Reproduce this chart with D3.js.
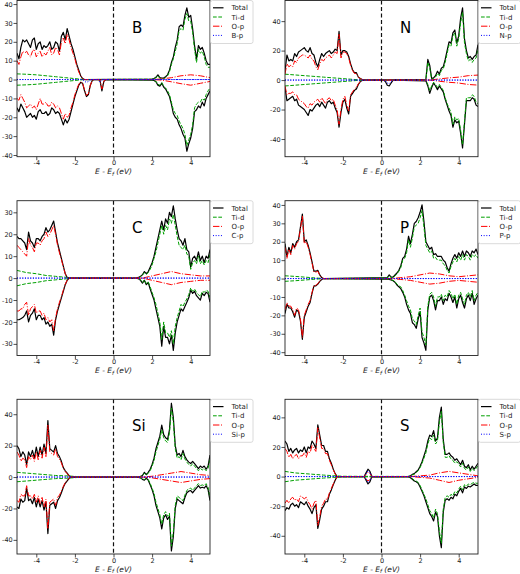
<!DOCTYPE html>
<html><head><meta charset="utf-8">
<script src="https://cdn.jsdelivr.net/npm/d3@7"></script>
<style>body{margin:0;background:#fff}svg{display:block}</style>
</head><body>
<svg id="chart" width="520" height="574"></svg>
<script>
// ---------------- DATA ----------------
const panelNames = ["B", "N", "C", "P", "Si", "S"];
const seriesLabels = ["Total", "Ti-d", "O-p"];
const dopantLabels = ["B-p", "N-p", "C-p", "P-p", "Si-p", "S-p"];
const xTickValues = [-4, -2, 0, 2, 4];
const B_yTicks = [-40, -30, -20, -10, 0, 10, 20, 30, 40];
const N_yTicks = [-40, -20, 0, 20, 40];
const C_yTicks = [-30, -20, -10, 0, 10, 20, 30];
const P_yTicks = [-40, -30, -20, -10, 0, 10, 20, 30, 40];
const Si_yTicks = [-40, -20, 0, 20, 40];
const S_yTicks = [-40, -20, 0, 20, 40];
const yDomains = [[-40.9, 41.9], [-52, 54], [-35.3, 35.3], [-41.8, 42.3], [-49, 49.5], [-52.3, 52.2]];

// valence arrays start at -5.0 eV; fine step 0.1 eV, coarse step 0.5 eV
const FINE = 0.1, COARSE = 0.5, VAL_START = -5.0;

// ---- B ----
const B_totUpV = [14,11,17,21,20,21,19,17,21,22,16,19,20,16,18,17,18,20,16,17,20,19,15,23,25,21,27,23,19,16,12,8,5,2,0.5,0];
const B_opUpV = [10,8,12,15,14,15,13,12,15,16,12,14,15,12,14,13,15,17,13,14,17,16,13,20,22,19,24,21,17,14,11,7,4,2,0.5,0];
const B_totDnV = [-15,-17,-13,-15,-17,-20,-19,-18,-20,-19,-21,-17,-16,-18,-18,-17,-19,-18,-15,-16,-18,-17,-18,-21,-24,-21,-23,-21,-17,-13,-9,-6,-3,-1.5,-2,-6,-9,-8,-3,-0.5,0,0,0,-0.5,-6,-1,0];
const B_opDnV = [-10,-11,-8,-10,-12,-15,-14,-13,-15,-14,-16,-13,-10,-13,-13,-12,-14,-14,-12,-13,-15,-14,-15,-18,-21,-18,-20,-19,-15,-12,-8,-5,-2.5,-1.2,-2,-5.5,-8.5,-7.5,-3,-0.5,0,0,0,-0.3,-5,-0.8,0];
const B_tdUpV = [3,2.8,2.5,2,1.5,1,0.5,0];
const B_tdDnV = [-3,-2.8,-2.5,-2,-1.5,-1,-0.5,0];
const B_conStart = 2.0;
const B_totUpC = [0.3,0.5,1.2,2.5,1,0.8,0.8,1.5,2.5,5,9,12,17,21,28,29,28,34,38,33,34,27,18,11,18,16,17,14,10,8,8];
const B_tdUpC = [0.2,0.4,1,2,0.7,0.5,0.5,1,2,4,8,11,15,19,26,27,26,32,35,31,31,25,16,9,16,14,15,12,8,6.5,6.5];
const B_totDnC = [-0.3,-0.5,-1.2,-3,-3.5,-2,-4,-5,-7,-9,-13,-18,-20,-21,-24,-26,-29,-31,-38,-34,-31,-26,-17,-16,-14,-15,-12,-14,-10,-8,-6];
const B_tdDnC = [-0.2,-0.4,-1,-2.5,-3,-1.5,-3.5,-4.5,-6,-8,-12,-16,-18,-19,-22,-24,-26,-29,-35,-32,-29,-24,-15,-13,-12,-12,-10,-11,-8,-6,-4.5];
const B_opStartC = 2.0;
const B_opUpC = [0,0.3,1,2,2.5,2,1];
const B_opDnC = [0,-0.3,-1.2,-2.2,-3,-2,-1];
const B_gapStart = -1.6;
const B_xpUpG = [0,0,0,0,0,0,0,0,0,0,0,0];
const B_xpDnG = [0,-1,-1.5,-1,-0.3,0,0,0,0,-1.5,-0.3,0];

// ---- N ----
const N_totUpV = [6,17,13,14,13,18,16,19,20,21,22,20,19,22,18,17,12,9,14,18,16,18,19,20,18,19,21,20,33,17,20,20,19,16,11,7,5,5,2,1,0.3,0];
const N_opUpV = [4,11,9,10,9,13,12,15,16,17,17,16,15,17,14,13,9,7,11,14,13,15,16,17,15,17,19,18,31,15,19,19,18,15,10,6.5,4.5,4.5,2,1,0.3,0];
const N_totDnV = [-5,-14,-13,-12,-11,-14,-13,-17,-18,-19,-20,-22,-24,-20,-21,-19,-17,-16,-18,-15,-17,-19,-15,-14,-16,-15,-19,-22,-32,-22,-15,-13,-19,-23,-11,-9,-7,-6,-3,-1,-0.3,0];
const N_opDnV = [-4,-10,-9,-9,-8,-10,-10,-13,-14,-15,-16,-18,-19,-16,-17,-15,-14,-13,-15,-12,-14,-16,-13,-12,-14,-13,-17,-20,-30,-20,-13,-11,-17,-21,-10,-8,-6,-5,-2.5,-1,-0.3,0];
const N_tdUpV = [4,3.5,3,2.5,2,1.5,1,0.5,0];
const N_tdDnV = [-4,-3.5,-3,-2.5,-2,-1.5,-1,-0.5,0];
const N_conStart = 2.3;
const N_totUpC = [0.5,14,10,1,1.5,3,6,4,8,9,14,20,26,25,32,34,25,30,42,49,28,20,15,16,14,16,17,24];
const N_tdUpC = [0.3,12,8,0.5,1,2,4.5,3,6.5,7.5,12,18,24,23,30,32,23,28,39,46,25,18,13,14,12,14,15,21];
const N_totDnC = [-0.5,-4,-9,-5,-2,-4,-6.5,-4,-6,-8,-13,-17,-21,-24,-32,-27,-29,-28,-36,-46,-30,-14,-14,-14,-12,-13,-17,-18];
const N_tdDnC = [-0.3,-3,-7,-4,-1.5,-3,-5,-3,-5,-7,-12,-16,-19,-22,-30,-25,-27,-26,-34,-44,-28,-12,-12,-12,-10,-11,-15,-16];
const N_opStartC = 2.5;
const N_opUpC = [0,0.8,1.5,2,3,3.4];
const N_opDnC = [0,-0.8,-1.5,-2,-3,-3.4];
const N_gapStart = 0.1;
const N_totDnG = [0,-1,-3.5,-4,-2,0];
const N_xpUpG = [0,0,0,0,0,0];
const N_xpDnG = [0,-0.5,-2,-2.5,-1,0];

// ---- C ----
const C_totUpV = [19,18,18,17,16,13,21,17,16,14,18,18,17,19,20,23,21,22,24,26,21,16,12.5,9,5.5,2,0.3,0];
const C_opUpV = [15,14,13,12,11,10,18,15,14,12,16,16,15,17,18,21,19,20,22,24,20,15,11.5,8.5,5,2,0.3,0];
const C_totDnV = [-19,-19,-18.5,-18,-17,-15,-20,-17,-16,-14,-19,-17,-17,-19,-18,-21,-20,-22,-21,-26,-19,-15,-12,-9,-6,-3,-1,0];
const C_opDnV = [-15,-15,-14,-14,-12,-11,-17,-14,-13,-12,-16,-15,-15,-17,-16,-19,-18,-20,-19,-24,-18,-14,-11,-8.5,-5.5,-2.8,-1,0];
const C_tdUpV = [3.5,2.5,2,1.2,0.8,0.4,0];
const C_tdDnV = [-3.5,-2.5,-2,-1.2,-0.8,-0.4,0];
const C_conStart = 1.2;
const C_totUpC = [0.1,0.3,0.8,1.5,3,2,3,5,7,10,14,18,22,26,22,27,25,30,28,33,27,22,18,17,15,18,13,12,5,9,10,8,12,8,10,7,10,9,13];
const C_tdUpC = [0.1,0.3,0.7,1.3,2.5,1.7,2.5,4,6,9,12,16,20,24,20,24,22,27,25,29,24,19,15,14,13,15,11,10,4,7,8,6.5,10,6.5,8,6,8,7,11];
const C_totDnC = [-0.1,-0.3,-1,-2.3,-1,-3,-2,-5,-7.5,-10,-14,-18,-22,-31,-22,-27,-27,-30,-26,-33,-25,-20,-17,-14,-15,-13,-11,-9,-5.5,-7,-6,-8,-9,-10,-7,-8,-6.5,-7,-11];
const C_tdDnC = [-0.1,-0.3,-0.8,-2,-0.8,-2.5,-1.7,-4,-6.5,-9,-12,-16,-20,-28,-20,-25,-25,-27,-24,-30,-22,-18,-15,-12,-13,-11,-9.5,-7.5,-4.5,-6,-5,-6.5,-7.5,-8.5,-6,-6.5,-5.5,-6,-9];
const C_opStartC = 1.5;
const C_opUpC = [0,1,2,3,2,1.5,1,1];
const C_opDnC = [0,-1,-2,-3,-2,-1.5,-1,-1];

// ---- P ----
const P_totUpV = [19,12,17,14,19,17,20,21,28,35,20,21,18,14,9,4,4,4.5,2,0.5,0];
const P_opUpV = [17,11,16,13,18,16,19,20,27,34,19,20,17,13,8.5,3.5,3.5,4,1.8,0.5,0];
const P_totDnV = [-19,-14,-16,-16,-18,-21,-17,-18,-23,-33,-21,-18,-15,-13,-8,-4,-4,-3,-1.5,-0.5,0];
const P_opDnV = [-17,-13,-15,-15,-17,-20,-16,-17,-22,-32,-20,-17,-14,-12,-7.5,-3.7,-3.7,-2.8,-1.4,-0.5,0];
const P_tdUpV = [1.5,1.2,0.8,0.4,0];
const P_tdDnV = [-1.5,-1.2,-0.8,-0.4,0];
const P_conStart = 0.3;
const P_totUpC = [0.5,2,0.8,0.8,2,3,4.5,7,11,12,16,23,19,24,30,31,33,36,40,31,20,18,16,17,13,13.5,12,12,12,10,9,6,4,8,11,13,11,14,12,15,12,15,14,12,15,14,16,13];
const P_tdUpC = [0.3,1.5,0.5,0.5,1.5,2.5,4,6,10,11,14,21,17,22,28,29,30,33,37,28,18,16,14,15,11,11.5,10,10,10,8,7,4.5,3,6.5,9,11,9,12,10,13,10,13,12,10,13,12,13,11];
const P_totDnC = [-0.3,-0.5,-0.8,-1.2,-2,-3.5,-4.5,-5.5,-7.5,-10,-14,-17,-19,-24,-25,-27,-22,-18,-32,-35,-39,-17,-10,-9,-12,-17,-12,-12,-10,-14,-11,-12,-8,-10,-13,-10,-16,-11,-9,-13,-16,-11,-9,-12,-8,-14,-11,-9];
const P_tdDnC = [-0.2,-0.4,-0.6,-1,-1.7,-3,-4,-4.5,-6.5,-9,-12,-15,-17,-22,-23,-25,-20,-16,-29,-32,-36,-15,-8.5,-7.5,-10,-15,-10,-10,-8.5,-12,-9,-10,-6.5,-8,-11,-8.5,-14,-9,-7.5,-11,-14,-9,-7.5,-10,-6.5,-12,-9,-7.5];
const P_opStartC = 0.5;
const P_opUpC = [0,0.5,1,2,3,2.5,1.5,1,1.5,2];
const P_opDnC = [0,-0.5,-1,-2,-3,-2.5,-1.5,-1,-1.5,-2];

// ---- Si ----
const Si_totUpV = [20,18,13,16,14,8,16,13,17,12,19,13,19,14,21,15,36,18,17,16,20,15,13,10,6,4,2.5,0.8,0];
const Si_opUpV = [16,14,10,12,11,6,13,11,14,10,16,11,17,12,19,13,33,16,15,14,18,13,11.5,9,5.5,3.5,2.2,0.7,0];
const Si_totDnV = [-19,-20,-14,-16,-15,-7,-15,-14,-17,-13,-19,-14,-19,-15,-21,-16,-36,-18,-17,-16,-20,-15,-13,-10,-6.5,-4,-2.5,-0.8,0];
const Si_opDnV = [-15,-16,-11,-12,-12,-5.5,-12,-12,-14,-11,-16,-12,-17,-13,-19,-14,-33,-16,-15,-14,-18,-13,-11.5,-9,-6,-3.5,-2.2,-0.7,0];
const Si_tdUpV = [3,2.5,2,1.5,1,0.8,0.4,0];
const Si_tdDnV = [-3,-2.5,-2,-1.5,-1,-0.8,-0.4,0];
const Si_conStart = 1.3;
const Si_totUpC = [0.2,0.5,1,3,1.5,3,5,8,12,18,22,26,33,27,25,24,30,47,38,20,14,15,13,17,13,11,9.5,8.6,10,8.5,7,5.3,7,6,7,5,7,14];
const Si_tdUpC = [0.1,0.3,0.8,2.5,1.2,2.5,4,7,10.5,16,20,24,30,25,23,22,28,44,35,18,12,13,11,15,11.5,9.5,8,7,8.5,7,5.5,4,5.5,4.5,5.5,4,5.5,12];
const Si_totDnC = [-0.2,-0.5,-1.5,-2,-0.8,-2,-5,-8,-12,-18,-22,-26,-33,-26,-24,-27,-25,-47,-38,-20,-14,-15,-16,-17,-13,-10,-9,-8.6,-10,-8.5,-7,-5.5,-7,-6.5,-7,-5.5,-8,-15];
const Si_tdDnC = [-0.1,-0.3,-1.2,-1.6,-0.6,-1.6,-4,-7,-10.5,-16,-20,-24,-30,-24,-22,-25,-23,-44,-35,-18,-12,-13,-14,-15,-11.5,-8.5,-7.5,-7,-8.5,-7,-5.5,-4.2,-5.5,-5,-5.5,-4.2,-6.5,-13];
const Si_opStartC = 1.5;
const Si_opUpC = [0,0.5,1.5,2.5,3.5,2.5,1.5,1];
const Si_opDnC = [0,-0.5,-1.5,-2.5,-3.5,-2.5,-1.5,-1];

// ---- S ----
const S_totUpV = [24,22,17,19,16,18,19,16,18,17,20,16,20,19,24,22,19,35,28,21,21,17,17,12,9,5,2,0];
const S_opUpV = [19,17,13,15,12,14,15,12,14,14,16,13,17,16,21,19,17,33,26,19,19,15.5,15.5,11,8,4.5,1.8,0];
const S_totDnV = [-23,-21,-22,-19,-18,-20,-19,-21,-17,-18,-19,-17,-20,-22,-25,-21,-19,-35,-29,-22,-20,-17,-17,-12,-9,-5.5,-2.5,0];
const S_opDnV = [-18,-16,-18,-15,-14,-16,-15,-17,-13,-14,-15,-14,-17,-19,-22,-18,-16,-33,-27,-20,-18,-15,-15.5,-11,-8,-5,-2.2,0];
const S_tdUpV = [3.5,2.5,2,1.5,1,0.6,0.2];
const S_tdDnV = [-3.5,-2.5,-2,-1.5,-1,-0.6,-0.2];
const S_conStart = 1.4;
const S_totUpC = [0.1,0.5,1.5,2,3.3,4.5,7,10,14,18,24,28,27,31,24,26,40,47,25,15,15,16,14,13,11,12,10,8,11,7,6,8,4.5,7,5,7,9];
const S_tdUpC = [0.1,0.3,1.2,1.6,2.8,4,6,9,12.5,16,22,26,25,28,22,24,37,44,23,13,13,14,12,11,9,10,8.5,6.5,9,5.5,4.5,6.5,3.5,5.5,4,5.5,7.5];
const S_totDnC = [-0.2,-0.8,-1.8,-3,-3.5,-4.5,-7,-10,-13,-17,-21,-25,-27,-30,-24,-27,-40,-48,-24,-16,-15,-16,-14,-15,-12,-13,-10,-8,-11,-7,-8,-6.5,-7,-6,-5,-6,-6];
const S_tdDnC = [-0.1,-0.6,-1.5,-2.5,-3,-4,-6,-9,-12,-15,-19,-23,-25,-28,-22,-25,-37,-45,-22,-14,-13,-14,-12,-13,-10,-11,-8.5,-6.5,-9,-5.5,-6.5,-5,-5.5,-4.5,-4,-4.5,-4.5];
const S_opStartC = 1.5;
const S_opUpC = [0,0.5,1,2.5,3.5,2.5,1.5,0.5];
const S_opDnC = [0,-0.5,-1,-2.5,-4,-2.5,-1.5,-0.5];
const S_gapStart = -0.9;
const S_totUpG = [0,2.5,5,3.5,0];
const S_totDnG = [0,-2.5,-5,-3.5,0];
const S_opUpG = [0,1.5,3,2,0];
const S_opDnG = [0,-1.5,-3,-2,0];
const S_xpUpG = [0,1.8,4,2.8,0];
const S_xpDnG = [0,-1.8,-4,-2.8,0];

// ---------------- TABLE BUILT FROM THE ARRAYS ----------------
const seg = (start, step, vals) => (vals || []).map((v, i) => [+(start + i * step).toFixed(3), v]);
const join = (...segs) => [].concat(...segs).sort((a, b) => a[0] - b[0]);

const raw = {
  B: {yt: B_yTicks, totUpV: B_totUpV, opUpV: B_opUpV, totDnV: B_totDnV, opDnV: B_opDnV, tdUpV: B_tdUpV, tdDnV: B_tdDnV,
      cs: B_conStart, totUpC: B_totUpC, tdUpC: B_tdUpC, totDnC: B_totDnC, tdDnC: B_tdDnC, os: B_opStartC, opUpC: B_opUpC, opDnC: B_opDnC,
      gs: B_gapStart, xpUpG: B_xpUpG, xpDnG: B_xpDnG},
  N: {yt: N_yTicks, totUpV: N_totUpV, opUpV: N_opUpV, totDnV: N_totDnV, opDnV: N_opDnV, tdUpV: N_tdUpV, tdDnV: N_tdDnV,
      cs: N_conStart, totUpC: N_totUpC, tdUpC: N_tdUpC, totDnC: N_totDnC, tdDnC: N_tdDnC, os: N_opStartC, opUpC: N_opUpC, opDnC: N_opDnC,
      gs: N_gapStart, totDnG: N_totDnG, xpUpG: N_xpUpG, xpDnG: N_xpDnG},
  C: {yt: C_yTicks, totUpV: C_totUpV, opUpV: C_opUpV, totDnV: C_totDnV, opDnV: C_opDnV, tdUpV: C_tdUpV, tdDnV: C_tdDnV,
      cs: C_conStart, totUpC: C_totUpC, tdUpC: C_tdUpC, totDnC: C_totDnC, tdDnC: C_tdDnC, os: C_opStartC, opUpC: C_opUpC, opDnC: C_opDnC},
  P: {yt: P_yTicks, totUpV: P_totUpV, opUpV: P_opUpV, totDnV: P_totDnV, opDnV: P_opDnV, tdUpV: P_tdUpV, tdDnV: P_tdDnV,
      cs: P_conStart, totUpC: P_totUpC, tdUpC: P_tdUpC, totDnC: P_totDnC, tdDnC: P_tdDnC, os: P_opStartC, opUpC: P_opUpC, opDnC: P_opDnC},
  Si: {yt: Si_yTicks, totUpV: Si_totUpV, opUpV: Si_opUpV, totDnV: Si_totDnV, opDnV: Si_opDnV, tdUpV: Si_tdUpV, tdDnV: Si_tdDnV,
      cs: Si_conStart, totUpC: Si_totUpC, tdUpC: Si_tdUpC, totDnC: Si_totDnC, tdDnC: Si_tdDnC, os: Si_opStartC, opUpC: Si_opUpC, opDnC: Si_opDnC},
  S: {yt: S_yTicks, totUpV: S_totUpV, opUpV: S_opUpV, totDnV: S_totDnV, opDnV: S_opDnV, tdUpV: S_tdUpV, tdDnV: S_tdDnV,
      cs: S_conStart, totUpC: S_totUpC, tdUpC: S_tdUpC, totDnC: S_totDnC, tdDnC: S_tdDnC, os: S_opStartC, opUpC: S_opUpC, opDnC: S_opDnC,
      gs: S_gapStart, totUpG: S_totUpG, totDnG: S_totDnG, opUpG: S_opUpG, opDnG: S_opDnG, xpUpG: S_xpUpG, xpDnG: S_xpDnG}
};

function curves(d) {
  const g = d.gs;
  return {
    totUp: join(seg(VAL_START, FINE, d.totUpV), seg(g, FINE, d.totUpG), seg(d.cs, FINE, d.totUpC)),
    totDn: join(seg(VAL_START, FINE, d.totDnV), seg(g, FINE, d.totDnG), seg(d.cs, FINE, d.totDnC)),
    tdUp: join(seg(VAL_START, COARSE, d.tdUpV), seg(d.cs, FINE, d.tdUpC)),
    tdDn: join(seg(VAL_START, COARSE, d.tdDnV), seg(d.cs, FINE, d.tdDnC)),
    opUp: join(seg(VAL_START, FINE, d.opUpV), seg(g, FINE, d.opUpG), seg(d.os, COARSE, d.opUpC)),
    opDn: join(seg(VAL_START, FINE, d.opDnV), seg(g, FINE, d.opDnG), seg(d.os, COARSE, d.opDnC)),
    xpUp: join([[-5, 0]], seg(g, FINE, d.xpUpG), [[5, 0]]),
    xpDn: join([[-5, 0]], seg(g, FINE, d.xpDnG), [[5, 0]])
  };
}

// ---------------- LAYOUT / STYLE ----------------
const svg = d3.select("#chart");
const FONT = "DejaVu Sans, Liberation Sans, sans-serif";
const cols = [[17, 210], [285, 478]];
const rows = [[0.5, 156.7], [200.7, 355.5], [399.3, 554]];
const styles = {
  tot: {stroke: "#000", width: 1.2, dash: null},
  td: {stroke: "#00a000", width: 1.0, dash: "3.7,1.6"},
  op: {stroke: "#ff0000", width: 1.0, dash: "6.4,1.6,1,1.6"},
  xp: {stroke: "#0000ff", width: 1.0, dash: "1,1.65"}
};
const tickFmt = v => String(v);

panelNames.forEach((name, pi) => {
  const [x0, x1] = cols[pi % 2];
  const [y0, y1] = rows[Math.floor(pi / 2)];
  const d = raw[name];
  const c = curves(d);
  const x = d3.scaleLinear().domain([-5, 5]).range([x0, x1]);
  const y = d3.scaleLinear().domain(yDomains[pi]).range([y1, y0]);
  const g = svg.append("g");

  const clipId = "clip" + pi;
  svg.append("clipPath").attr("id", clipId).append("rect")
    .attr("x", x0).attr("y", y0).attr("width", x1 - x0).attr("height", y1 - y0);
  const plot = g.append("g").attr("clip-path", `url(#${clipId})`);

  const line = d3.line().x(p => x(p[0])).y(p => y(p[1]));
  const order = [["tot", "totUp"], ["tot", "totDn"], ["td", "tdUp"], ["td", "tdDn"], ["op", "opUp"], ["op", "opDn"], ["xp", "xpUp"], ["xp", "xpDn"]];
  order.forEach(([st, key]) => {
    const s = styles[st];
    plot.append("path").datum(c[key]).attr("d", line)
      .attr("fill", "none").attr("stroke", s.stroke).attr("stroke-width", s.width)
      .attr("stroke-dasharray", s.dash).attr("stroke-linejoin", "round");
  });

  // Fermi level
  plot.append("line").attr("x1", x(0)).attr("x2", x(0)).attr("y1", y0).attr("y2", y1)
    .attr("stroke", "#111").attr("stroke-width", 1.2).attr("stroke-dasharray", "4,2.5");

  // frame
  g.append("rect").attr("x", x0).attr("y", y0).attr("width", x1 - x0).attr("height", y1 - y0)
    .attr("fill", "none").attr("stroke", "#222").attr("stroke-width", 0.9);

  // axes
  const xa = g.append("g").attr("transform", `translate(0,${y1})`)
    .call(d3.axisBottom(x).tickValues(xTickValues).tickSize(3.5).tickPadding(0.5).tickFormat(tickFmt));
  const ya = g.append("g").attr("transform", `translate(${x0},0)`)
    .call(d3.axisLeft(y).tickValues(d.yt).tickSize(3.5).tickPadding(0.8).tickFormat(tickFmt));
  [xa, ya].forEach(a => {
    a.select(".domain").remove();
    a.selectAll("line").attr("stroke", "#222").attr("stroke-width", 0.8);
    a.selectAll("text").attr("font-size", 6.5).attr("font-family", FONT).attr("fill", "#222");
  });

  // x label
  const xl = g.append("text").attr("x", (x0 + x1) / 2).attr("y", y1 + 17.6)
    .attr("text-anchor", "middle").attr("font-size", 7.5).attr("font-style", "italic")
    .attr("font-family", FONT).attr("fill", "#222");
  xl.append("tspan").text("E - E");
  xl.append("tspan").text("f").attr("font-size", 5.5).attr("dy", 1.5);
  xl.append("tspan").text(" (eV)").attr("dy", -1.5);

  // panel label
  g.append("text").attr("x", x0 + 115).attr("y", y0 + 32).text(name)
    .attr("font-size", 15).attr("font-family", FONT).attr("fill", "#000");

  // legend
  const lx = x1 + 0.5, lw = pi % 2 ? 42 : 42.5;
  const lg = g.append("g");
  lg.append("rect").attr("x", lx).attr("y", y0).attr("width", lw).attr("height", 43)
    .attr("rx", 2).attr("fill", "#fff").attr("fill-opacity", 0.8).attr("stroke", "#d0d0d0").attr("stroke-width", 0.8);
  const labels = seriesLabels.concat([dopantLabels[pi]]);
  ["tot", "td", "op", "xp"].forEach((st, i) => {
    const s = styles[st];
    const yy = y0 + 7.3 + i * 9.2;
    lg.append("line").attr("x1", lx + 2.5).attr("x2", lx + 13).attr("y1", yy).attr("y2", yy)
      .attr("stroke", s.stroke).attr("stroke-width", s.width).attr("stroke-dasharray", s.dash);
    lg.append("text").attr("x", lx + 21).attr("y", yy + 2.5).text(labels[i])
      .attr("font-size", 7).attr("font-family", FONT).attr("fill", "#222");
  });
});
</script>
</body></html>
